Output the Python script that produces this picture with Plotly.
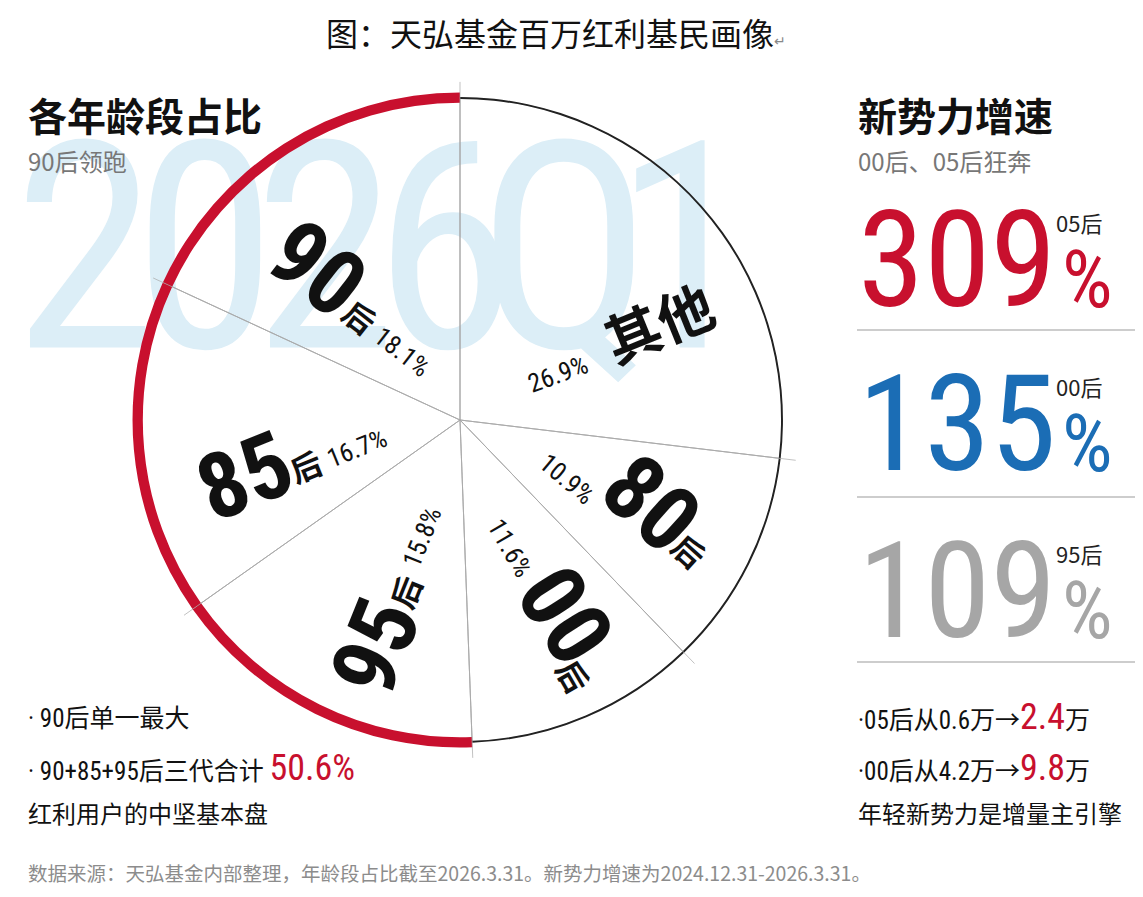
import numpy as np
import plotly.graph_objects as go

# 各年龄段占比, clockwise from 12 o'clock
groups = ["其他", "80后", "00后", "95后", "85后", "90后"]
shares = [26.9, 10.9, 11.6, 15.8, 16.7, 18.1]
core_groups = ["95后", "85后", "90后"]

# 新势力增速
growth_groups = ["05后", "00后", "95后"]
growth_rates = [309, 135, 109]

# 人数变化（万）
young_groups = ["05后", "00后"]
count_from = [0.6, 4.2]
count_to = [2.4, 9.8]

watermark = "2026Q1"

W, H = 1143, 897
OFF = 8  # default body margin of the html page
FW, FH = W - 2 * OFF, H - 2 * OFF
CX, CY, R = 460, 420, 322
R_MAX = 1.08

RED = "#c8102e"
BLUE = "#1b6db5"
GREY_NUM = "#a6a6a6"
NARROW = "Roboto Condensed, Noto Sans CJK SC, sans-serif"
CJK = "Noto Sans CJK SC, sans-serif"

widths = np.array(shares) * 3.6
ends = np.cumsum(widths)
starts = ends - widths
mids = starts + widths / 2
is_core = [g in core_groups for g in groups]

fig = go.Figure()

# watermark on a hidden pixel axis (drawn under the polar pie)
wm_x = [85 + 120 * i for i in range(len(watermark))]
fig.add_trace(go.Scatter(
    x=wm_x, y=[275] * len(watermark), text=list(watermark), mode="text",
    textfont=dict(family=NARROW, size=290, color="#dceef7"),
    hoverinfo="skip", showlegend=False))

# slices
fig.add_trace(go.Barpolar(
    r=[1] * len(shares), theta=mids, width=widths,
    marker=dict(color="rgba(0,0,0,0)", line=dict(color="#a8a8a8", width=0.7)),
    hoverinfo="skip", showlegend=False))

# slice boundary lines, slightly past the rim
for a in starts:
    fig.add_trace(go.Scatterpolar(
        r=[0, 1.05], theta=[a, a], mode="lines",
        line=dict(color="#a8a8a8", width=0.7),
        hoverinfo="skip", showlegend=False))

# outer rim: thin black for the rest, thick red for 90/85/95后
fig.add_trace(go.Barpolar(
    r=[0.006 if not c else 0 for c in is_core], base=0.997, theta=mids, width=widths,
    marker=dict(color="#222222", line=dict(width=0)),
    hoverinfo="skip", showlegend=False))
fig.add_trace(go.Barpolar(
    r=[0.032 if c else 0 for c in is_core], base=0.985, theta=mids, width=widths,
    marker=dict(color=RED, line=dict(width=0)),
    hoverinfo="skip", showlegend=False))

# label parts per slice: (kind, angle offset from slice middle, radius fraction, rotation)
label_layout = {
    "90后": [("num", -10.67, 0.648, 38), ("hou", -12.42, 0.448, 38), ("pct", -7.92, 0.277, 38)],
    "85后": [("num", -9.38, 0.69, -22), ("hou", -12.43, 0.50, -22), ("pct", -9.98, 0.33, -22)],
    "95后": [("num", -5.78, 0.753, -68), ("hou", -9.28, 0.562, -68), ("pct", -8.28, 0.382, -68)],
    "00后": [("pct", 1.74, 0.427, 60), ("num", -5.26, 0.688, 57), ("hou", -0.46, 0.871, 60)],
    "80后": [("pct", 2.44, 0.379, 40), ("num", -2.96, 0.647, 42), ("hou", 3.74, 0.816, 42)],
    "其他": [("pct", 16.48, 0.336, -20), ("name", 16.38, 0.686, -22)],
}
part_size = {"num": 92, "hou": 31, "pct": 26, "name": 56}

annotations = []


def pix(angle, rr):
    t = np.radians(angle)
    return CX + rr * R * np.sin(t), CY - rr * R * np.cos(t)


for g, s, m in zip(groups, shares, mids):
    for kind, da, rr, rot in label_layout[g]:
        x, y = pix(m + da, rr)
        if kind == "num":
            text = f"<b>{g[:-1]}</b>"
        elif kind == "hou":
            text = f"<b>{g[-1]}</b>"
        elif kind == "name":
            text = f"<b>{g}</b>"
        else:
            text = f"{s:.1f}%"
        annotations.append(dict(x=x, y=y, xref="x", yref="y", text=text, textangle=rot,
                                showarrow=False, xanchor="center", yanchor="middle",
                                font=dict(family=NARROW, size=part_size[kind], color="#111111")))


def note(x, y, text, size, color="#111111", family=CJK, xanchor="left"):
    annotations.append(dict(x=x, y=y, xref="x", yref="y", text=text, showarrow=False,
                            xanchor=xanchor, yanchor="middle",
                            font=dict(family=family, size=size, color=color)))


# title and headings
note(556, 32, "图：天弘基金百万红利基民画像<span style='font-size:14px;color:#888'>↵</span>",
     32, xanchor="center")
note(26, 114, "<b>各年龄段占比</b>", 39)
note(26, 160, "90后领跑", 24, color="#777777")
note(856, 114, "<b>新势力增速</b>", 39)
note(856, 160, "00后、05后狂奔", 24, color="#777777")

# growth blocks
num_colors = [RED, BLUE, GREY_NUM]
block_y = [260, 424, 591]
for g, v, c, y in zip(growth_groups, growth_rates, num_colors, block_y):
    note(856, y, str(v), 134, color=c, family=NARROW)
    note(1054, y - 38, g, 22, color="#222222")
    note(1060, y + 20, "%", 80, color=c, family=NARROW)

# separators
shapes = [dict(type="line", xref="x", yref="y", x0=857, x1=1135, y0=yy, y1=yy,
               line=dict(color="#bdbdbd", width=1.5)) for yy in [330, 497, 662]]

# bottom notes, right
for g, a, b, y in zip(young_groups, count_from, count_to, [717, 768]):
    note(856, y, f"·{g}从{a}万→<span style='font-size:36px;color:{RED}'>{b}</span>万",
         25, family=NARROW)
note(856, 812, "年轻新势力是增量主引擎", 24)

# bottom notes, left
core_total = sum(s for g, s in zip(groups, shares) if g in core_groups)
note(26, 718, "· 90后单一最大", 25, family=NARROW)
note(26, 768, f"· 90+85+95后三代合计 <span style='font-size:36px;color:{RED}'>{core_total:.1f}%</span>",
     25, family=NARROW)
note(26, 812, "红利用户的中坚基本盘", 24)

note(26, 872, "数据来源：天弘基金内部整理，年龄段占比截至2026.3.31。新势力增速为2024.12.31-2026.3.31。",
     19.5, color="#8c8c8c")

fig.update_layout(
    width=FW, height=FH, margin=dict(l=0, r=0, t=0, b=0),
    paper_bgcolor="white", plot_bgcolor="rgba(0,0,0,0)",
    xaxis=dict(range=[OFF, W - OFF], visible=False, fixedrange=True, domain=[0, 1]),
    yaxis=dict(range=[H - OFF, OFF], visible=False, fixedrange=True, domain=[0, 1]),
    polar=dict(
        domain=dict(x=[(CX - OFF - R * R_MAX) / FW, (CX - OFF + R * R_MAX) / FW],
                    y=[1 - (CY - OFF + R * R_MAX) / FH, 1 - (CY - OFF - R * R_MAX) / FH]),
        bgcolor="rgba(0,0,0,0)",
        radialaxis=dict(range=[0, R_MAX], visible=False),
        angularaxis=dict(direction="clockwise", rotation=90, visible=False),
        barmode="overlay",
    ),
    annotations=annotations,
    shapes=shapes,
    showlegend=False,
)

fig.write_html("out.html")
